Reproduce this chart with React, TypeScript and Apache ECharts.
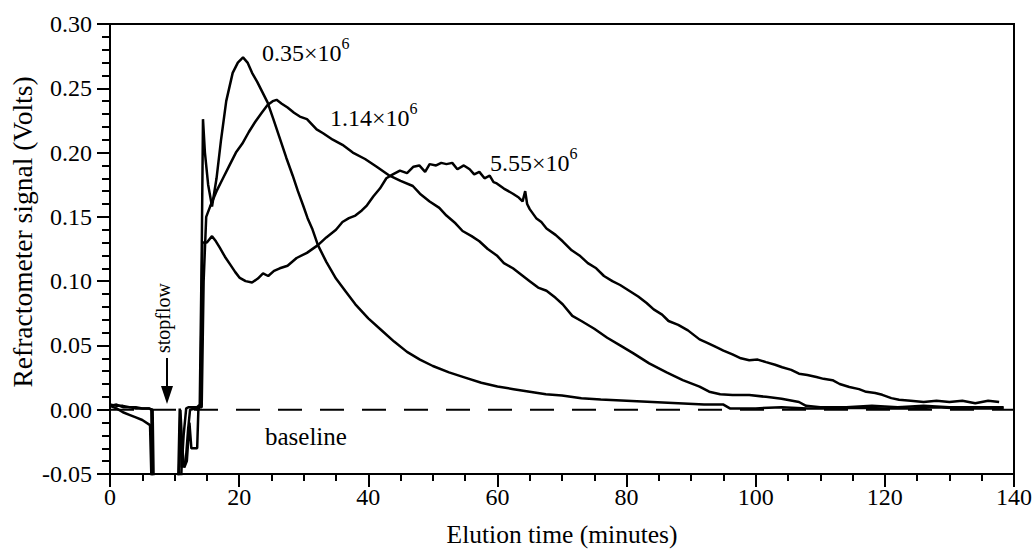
import React, { useEffect, useRef } from "react";
import * as echarts from "echarts";

// Elution time (minutes), refractometer signal (Volts)
const curve035: [number, number][] = [
  [0, 0.003], [1, 0.004], [2, 0.002], [3, 0.002], [4, 0.001], [5, 0.001], [6, 0.001], [6.6, 0.0], [6.8, -0.07],
  [10.5, -0.07], [10.8, 0.001], [11.1, -0.045], [11.4, -0.02], [11.8, 0.001], [12.2, 0.002], [13.5, 0.002],
  [13.9, 0.004], [14.2, 0.12], [14.4, 0.226], [14.7, 0.2], [15.2, 0.175], [15.8, 0.158], [16.5, 0.18], [17.2, 0.21],
  [18, 0.24], [19, 0.262], [19.8, 0.27], [20.6, 0.274], [21.3, 0.27], [22, 0.262], [22.8, 0.255], [23.6, 0.247],
  [24.4, 0.239], [25.3, 0.226], [26.3, 0.211], [27.3, 0.196], [28.3, 0.182], [29.1, 0.17], [29.9, 0.159],
  [30.6, 0.149], [31.3, 0.141], [32.2, 0.128], [33.5, 0.115], [35, 0.102], [36.5, 0.092], [38, 0.082],
  [40, 0.071], [42, 0.062], [44, 0.053], [46, 0.045], [48, 0.039], [50, 0.034], [52.5, 0.029], [55, 0.025],
  [57.5, 0.021], [60, 0.018], [62.5, 0.016], [65, 0.014], [67.5, 0.012], [70, 0.011], [73, 0.009], [76, 0.008],
  [80, 0.007], [84, 0.006], [88, 0.005], [92, 0.004], [95, 0.004], [96, 0.001], [100, 0.001], [104, 0.002],
  [108, 0.001], [112, 0.001], [116, 0.0015], [120, 0.001], [124, 0.001], [128, 0.002], [132, 0.001],
  [136, 0.001], [138.4, 0.001],
];

const curve114: [number, number][] = [
  [0, 0.003], [1, 0.001], [2, -0.002], [3, -0.004], [4, -0.006], [5, -0.008], [6.2, -0.012], [6.5, -0.07],
  [10.9, -0.07], [11.2, -0.03], [11.5, -0.045], [11.9, -0.04], [12.3, -0.01], [12.6, -0.03], [13.5, -0.03],
  [13.7, 0.002], [14.2, 0.002], [14.5, 0.1], [14.9, 0.15], [15.5, 0.158], [16.5, 0.17], [17.5, 0.18],
  [18.5, 0.19], [19.5, 0.2], [20.5, 0.207], [21.5, 0.216], [22.5, 0.224], [23.5, 0.231], [24.4, 0.237],
  [25.2, 0.24], [25.8, 0.241], [26.6, 0.238], [27.5, 0.235], [28.5, 0.231], [29.4, 0.228], [30.5, 0.226],
  [32, 0.218], [33, 0.215], [34.5, 0.21], [36, 0.206], [37.6, 0.2], [39.5, 0.195], [41.3, 0.189],
  [43.3, 0.182], [45, 0.178], [46.9, 0.174], [48, 0.168], [49.5, 0.162], [51, 0.157], [52.1, 0.151],
  [53.5, 0.145], [54.6, 0.139], [56, 0.135], [57.2, 0.131], [58.5, 0.125], [59.9, 0.12], [61, 0.114],
  [62.4, 0.11], [63.7, 0.105], [65, 0.1], [66.3, 0.095], [67.6, 0.0925], [69, 0.087], [70.1, 0.082],
  [71.6, 0.073], [73, 0.069], [75, 0.063], [77, 0.056], [79, 0.05], [81, 0.044], [83.5, 0.036],
  [86.2, 0.029], [88.7, 0.023], [91.3, 0.018], [92.8, 0.014], [94.5, 0.012], [96.4, 0.0115], [99, 0.0115],
  [101.6, 0.01], [104, 0.0085], [106.7, 0.006], [107.8, 0.003], [110, 0.002], [114, 0.002], [118, 0.003],
  [122, 0.002], [126, 0.003], [130, 0.002], [134, 0.002], [138.4, 0.002],
];

const curve555: [number, number][] = [
  [0, 0.004], [1, 0.003], [2, 0.003], [3, 0.002], [4, 0.002], [5, 0.001], [6, 0.001], [6.4, 0.0], [6.6, -0.07],
  [10.6, -0.07], [10.9, 0.0], [11.3, -0.04], [11.7, -0.042], [12.1, -0.015], [12.4, 0.0], [13.2, 0.001],
  [13.6, 0.0], [14.0, 0.003], [14.3, 0.13], [15.0, 0.13], [15.8, 0.135], [16.4, 0.131], [17, 0.126],
  [17.8, 0.119], [18.6, 0.113], [19.4, 0.107], [20.1, 0.1025], [21, 0.1], [22, 0.099], [22.9, 0.102],
  [23.7, 0.106], [24.5, 0.104], [25.4, 0.108], [26.3, 0.11], [27.5, 0.112], [28.9, 0.118], [30.5, 0.122],
  [32.2, 0.128], [33.5, 0.134], [35, 0.14], [36, 0.146], [37, 0.149], [38, 0.151], [39, 0.155], [39.8, 0.159],
  [40.8, 0.166], [41.8, 0.172], [42.8, 0.18], [43.8, 0.183], [44.9, 0.186], [46, 0.184], [47, 0.189],
  [47.9, 0.19], [48.8, 0.185], [49.5, 0.191], [50.5, 0.19], [51.3, 0.192], [52.1, 0.191], [53, 0.192],
  [53.8, 0.187], [54.8, 0.19], [55.7, 0.187], [56.4, 0.183], [57.2, 0.185], [58, 0.18], [58.8, 0.182],
  [59.4, 0.177], [59.9, 0.176], [61, 0.172], [62.4, 0.168], [63.3, 0.165], [63.9, 0.162], [64.3, 0.17],
  [64.6, 0.16], [65, 0.156], [66, 0.149], [66.8, 0.146], [67.6, 0.141], [69, 0.136], [70.1, 0.131],
  [71.5, 0.124], [72.7, 0.12], [74, 0.114], [75.3, 0.11], [76.5, 0.104], [77.8, 0.1], [79, 0.097],
  [80.4, 0.0925], [81.8, 0.088], [83.1, 0.083], [84.2, 0.078], [85.5, 0.074], [86.5, 0.069], [88, 0.066],
  [89.5, 0.0617], [91.3, 0.0547], [92.5, 0.052], [93.9, 0.0486], [95, 0.046], [96.4, 0.043], [97.7, 0.04],
  [99, 0.0385], [100.3, 0.039], [101.6, 0.037], [103, 0.035], [104.1, 0.033], [105.5, 0.031], [106.7, 0.028],
  [108, 0.027], [109.4, 0.0254], [110.5, 0.024], [111.9, 0.023], [113, 0.02], [114.5, 0.0177], [116, 0.016],
  [117.1, 0.0139], [118.5, 0.013], [119.6, 0.0116], [121, 0.009], [122.2, 0.0077], [124, 0.007], [126, 0.006],
  [128, 0.007], [130, 0.006], [132, 0.007], [134, 0.005], [136, 0.007], [137.7, 0.006],
];

const baseline: [number, number][] = [[0, 0], [140, 0]];

const curveNames = ["0.35×10^6", "1.14×10^6", "5.55×10^6"];
const xTitle = "Elution time (minutes)";
const yTitle = "Refractometer signal (Volts)";

const FONT = "'Liberation Serif', 'Times New Roman', serif";

export default function App() {
  const ref = useRef<HTMLDivElement>(null);
  useEffect(() => {
    if (!ref.current) return;
    const chart = echarts.init(ref.current, undefined, { renderer: "svg" });
    const lineStyle = { color: "#000", width: 2.5 };
    const supRich = {
      b: { fontSize: 24, fontFamily: FONT, color: "#000", verticalAlign: "bottom", lineHeight: 30 },
      s: { fontSize: 16, fontFamily: FONT, color: "#000", verticalAlign: "top", lineHeight: 16 },
    };
    const supText = (s: string) => {
      const [base, exp] = s.split("^");
      return `{b|${base}}{s|${exp}}`;
    };
    const tickStyle = { color: "#000", width: 2 };
    chart.setOption({
      animation: false,
      backgroundColor: "#fff",
      textStyle: { fontFamily: FONT, color: "#000" },
      grid: { left: 110, right: 20, top: 24, bottom: 74, show: true, borderColor: "#000", borderWidth: 2, backgroundColor: "transparent" },
      xAxis: {
        type: "value",
        min: 0,
        max: 140,
        interval: 20,
        name: xTitle,
        nameLocation: "middle",
        nameGap: 47,
        nameTextStyle: { fontSize: 25.5, fontFamily: FONT, color: "#000" },
        axisLine: { show: true, onZero: false, lineStyle: { color: "#000", width: 2 } },
        axisTick: { show: true, inside: false, length: 13, lineStyle: tickStyle },
        minorTick: { show: true, splitNumber: 4, length: 7, lineStyle: tickStyle },
        axisLabel: { fontSize: 24, fontFamily: FONT, color: "#000", margin: 11 },
        splitLine: { show: false },
        minorSplitLine: { show: false },
      },
      yAxis: {
        type: "value",
        min: -0.05,
        max: 0.3,
        interval: 0.05,
        axisLine: { show: true, onZero: false, lineStyle: { color: "#000", width: 2 } },
        axisTick: { show: true, inside: false, length: 13, lineStyle: tickStyle },
        minorTick: { show: true, splitNumber: 5, length: 8, lineStyle: tickStyle },
        axisLabel: { fontSize: 24, fontFamily: FONT, color: "#000", margin: 18, formatter: (v: number) => v.toFixed(2) },
        splitLine: { show: false },
        minorSplitLine: { show: false },
      },
      series: [
        { name: curveNames[0], type: "line", data: curve035, showSymbol: false, lineStyle, clip: true },
        { name: curveNames[1], type: "line", data: curve114, showSymbol: false, lineStyle, clip: true },
        { name: curveNames[2], type: "line", data: curve555, showSymbol: false, lineStyle, clip: true },
        { name: "baseline", type: "line", data: baseline, showSymbol: false, lineStyle: { color: "#000", width: 2, type: [24, 18] }, clip: true, z: 1 },
      ],
      graphic: [
        { type: "text", x: 22, y: 232, rotation: Math.PI / 2, style: { text: yTitle, fontSize: 27.5, fontFamily: FONT, fill: "#000", align: "center", verticalAlign: "middle" } },
        { type: "text", x: 262, y: 50, style: { text: supText(curveNames[0]), rich: supRich, verticalAlign: "middle" } },
        { type: "text", x: 330, y: 115, style: { text: supText(curveNames[1]), rich: supRich, verticalAlign: "middle" } },
        { type: "text", x: 490, y: 160, style: { text: supText(curveNames[2]), rich: supRich, verticalAlign: "middle" } },
        { type: "text", x: 265, y: 436, style: { text: "baseline", fontSize: 25, fontFamily: FONT, fill: "#000", verticalAlign: "middle" } },
        { type: "text", x: 163, y: 318, rotation: Math.PI / 2, style: { text: "stopflow", fontSize: 20, fontFamily: FONT, fill: "#000", align: "center", verticalAlign: "middle" } },
        { type: "line", shape: { x1: 167, y1: 358, x2: 167, y2: 392 }, style: { stroke: "#000", lineWidth: 2 } },
        { type: "polygon", shape: { points: [[161, 386], [173, 386], [167, 404]] }, style: { fill: "#000" } },
      ],
    });
    return () => chart.dispose();
  }, []);
  return <div ref={ref} style={{ width: 1035, height: 552, position: "absolute", left: 0, top: 0 }} />;
}
